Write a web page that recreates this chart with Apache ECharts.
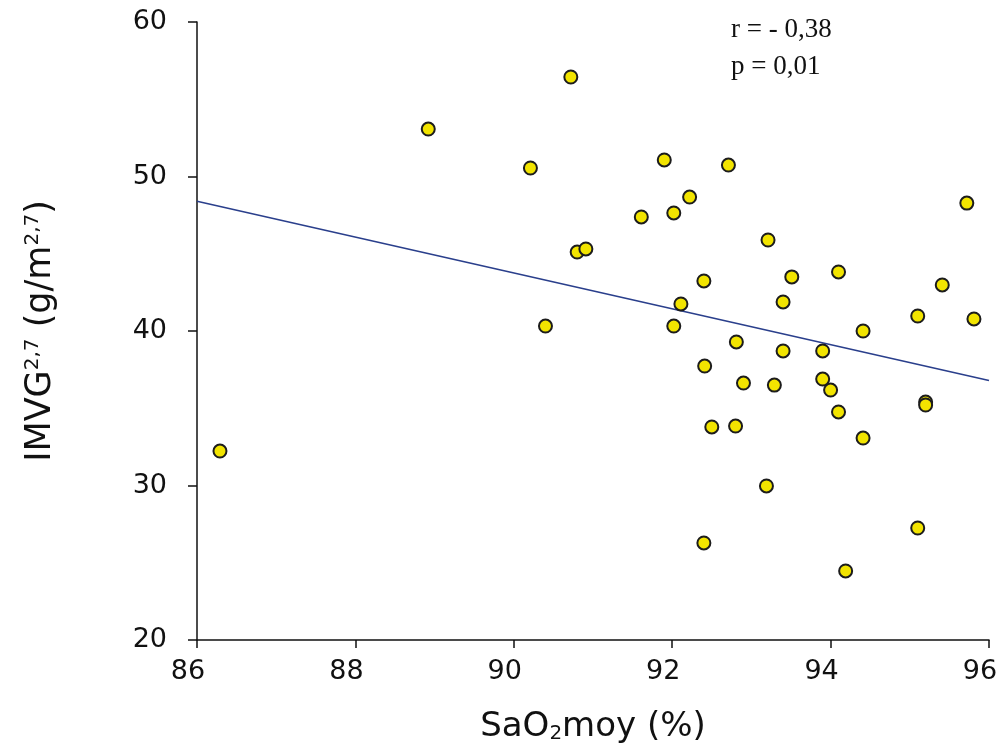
<!DOCTYPE html>
<html>
<head>
<meta charset="utf-8">
<script src="https://cdn.jsdelivr.net/npm/echarts@6/dist/echarts.min.js"></script>
<style>
html,body{margin:0;padding:0;background:#fff;overflow:hidden;}
#main{width:1000px;height:754px;}
</style>
</head>
<body>
<div id="main"></div>
<script>
// SaO2 moyenne (%)
var sao2 = [86.29, 88.92, 90.72, 90.21, 90.40, 90.80, 90.91, 91.61, 91.90, 92.02, 92.22, 92.71, 92.40, 92.11, 92.02, 92.81, 92.41, 92.90, 92.50, 92.80, 92.40, 93.19, 93.21, 93.51, 93.40, 93.40, 93.29, 94.10, 93.90, 93.90, 94.00, 94.10, 94.41, 94.41, 94.19, 95.72, 95.41, 95.10, 95.81, 95.20, 95.20, 95.10];
// IMVG 2,7 (g/m2,7)
var imvg = [32.23, 53.07, 56.44, 50.55, 40.32, 45.11, 45.31, 47.38, 51.07, 47.64, 48.67, 50.74, 43.24, 41.75, 40.32, 39.29, 37.73, 36.63, 33.79, 33.85, 26.28, 29.97, 45.89, 43.50, 41.88, 38.71, 36.50, 43.82, 38.71, 36.89, 36.18, 34.76, 40.00, 33.07, 24.47, 48.28, 42.98, 40.97, 40.78, 35.40, 35.21, 27.25];
// regression line end points
var fitX = [86, 96];
var fitY = [48.4, 36.8];
var statLines = ['r = - 0,38', 'p = 0,01'];

var points = sao2.map(function (x, i) { return [x, imvg[i]]; });
var fit = fitX.map(function (x, i) { return [x, fitY[i]]; });

var chart = echarts.init(document.getElementById('main'), null, {renderer: 'canvas'});
var axisFont = 'DejaVu Sans';
chart.setOption({
  backgroundColor: '#ffffff',
  animation: false,
  grid: {left: 197, right: 11, top: 22, bottom: 114, containLabel: false, outerBoundsMode: 'none'},
  xAxis: {
    type: 'value', min: 86, max: 96, interval: 2,
    axisLine: {show: true, lineStyle: {color: '#111', width: 1.5}},
    axisTick: {show: true, inside: false, length: 8, lineStyle: {color: '#111', width: 1.5}},
    splitLine: {show: false},
    axisLabel: {margin: 18, fontSize: 27, fontFamily: axisFont, color: '#111', padding: [0, 18, 0, 0]},
    name: 'SaO{sub|2}moy (%)',
    nameLocation: 'middle', nameGap: 70,
    nameTextStyle: {fontSize: 34, fontFamily: axisFont, color: '#111',
      rich: {sub: {fontSize: 20, fontFamily: axisFont, color: '#111', verticalAlign: 'bottom', padding: [14, 0, 0, 0]}}}
  },
  yAxis: {
    type: 'value', min: 20, max: 60, interval: 10,
    axisLine: {show: true, lineStyle: {color: '#111', width: 1.5}},
    axisTick: {show: true, inside: false, length: 9, lineStyle: {color: '#111', width: 1.5}},
    splitLine: {show: false},
    axisLabel: {margin: 30, fontSize: 27, fontFamily: axisFont, color: '#111'},
    name: 'IMVG{sup|2,7} (g/m{sup|2,7})',
    nameLocation: 'middle', nameGap: 138, nameRotate: 90,
    nameTextStyle: {fontSize: 35, fontFamily: axisFont, color: '#111',
      rich: {sup: {fontSize: 20, fontFamily: axisFont, color: '#111', verticalAlign: 'top', padding: [0, 0, 16, 0]}}}
  },
  series: [
    {
      type: 'line', data: fit, symbol: 'none', z: 1,
      lineStyle: {color: '#2a3f8c', width: 1.6},
      silent: true
    },
    {
      type: 'scatter', data: points, z: 3,
      symbol: 'circle', symbolSize: 13,
      itemStyle: {color: '#f2e400', borderColor: '#1c1c1c', borderWidth: 2, opacity: 1}
    }
  ],
  graphic: [
    {type: 'text', left: 731, top: 16, style: {text: statLines[0], font: '27px "Liberation Serif"', fill: '#111'}},
    {type: 'text', left: 731, top: 53, style: {text: statLines[1], font: '27px "Liberation Serif"', fill: '#111'}}
  ]
});
</script>
</body>
</html>
